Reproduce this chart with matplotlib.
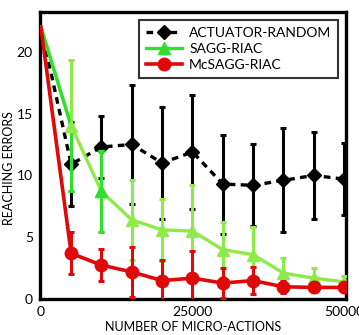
import matplotlib
matplotlib.use("Agg")
import matplotlib.pyplot as plt
import numpy as np

# ---- data ----
micro_actions = [0, 5000, 10000, 15000, 20000, 25000, 30000, 35000, 40000, 45000, 50000]
random_mean = [22.0, 10.9, 12.3, 12.5, 11.0, 11.9, 9.3, 9.2, 9.6, 10.0, 9.7]
random_err = [0.0, 3.4, 2.5, 4.8, 4.5, 4.6, 4.0, 3.3, 4.2, 3.5, 2.9]
sagg_mean = [22.0, 14.0, 8.7, 6.4, 5.6, 5.5, 4.0, 3.6, 2.1, 1.7, 1.4]
sagg_err = [0.0, 5.3, 3.3, 3.2, 2.5, 3.7, 2.2, 2.2, 1.2, 0.8, 0.5]
mc_mean = [22.0, 3.7, 2.75, 2.2, 1.5, 1.7, 1.3, 1.5, 1.0, 0.95, 0.95]
mc_err = [0.0, 1.7, 1.3, 2.0, 1.7, 2.2, 1.2, 1.1, 0.5, 0.4, 0.4]
labels = ["ACTUATOR-RANDOM", "SAGG-RIAC", "McSAGG-RIAC"]
xticks = [0, 25000, 50000]
yticks = [0, 5, 10, 15, 20]

plt.rcParams['font.family'] = ['Lato', 'DejaVu Sans']

fig = plt.figure(figsize=(3.59, 3.35), dpi=100)
ax = fig.add_axes([0.111, 0.107, 0.853, 0.857])

BLACK = "#000000"
LIGHT_GREEN = "#8eea4a"
BRIGHT_GREEN = "#2fe02f"
RED = "#e00808"

x = np.array(micro_actions)
EB = dict(ls="none", elinewidth=2.2, capsize=2.5, capthick=2.2)


def series(mean, err, color, ls, lw, marker, ms, z):
    mean = np.asarray(mean)
    ax.plot(x, mean, color=color, ls=ls, lw=lw, zorder=z)
    ax.errorbar(x[1:], mean[1:], yerr=np.asarray(err)[1:], color=color,
                marker=marker, ms=ms, zorder=z + 0.01, **EB)


series(random_mean, random_err, BLACK, (0, (2.0, 1.6)), 2.4, "D", 7, 2)
series(sagg_mean, sagg_err, LIGHT_GREEN, "-", 2.4, "^", 9, 3)
# bright-green overlay parts
sm = np.asarray(sagg_mean)
se = np.asarray(sagg_err)
ax.plot(x[:2], sm[:2], color=BRIGHT_GREEN, lw=2.4, zorder=3.1)
ax.errorbar(x[1:2], sm[1:2], yerr=[se[1:2], [0]], color=BRIGHT_GREEN,
            zorder=3.05, **EB)
ax.errorbar(x[2:3], sm[2:3], yerr=se[2:3], color=BRIGHT_GREEN,
            marker="^", ms=9, zorder=3.1, **EB)
series(mc_mean, mc_err, RED, "-", 2.6, "o", 9, 4)

# legend handles
h1, = ax.plot([], [], color=BLACK, ls=(0, (2.0, 1.6)), lw=2.4, marker="D", ms=7)
h2, = ax.plot([], [], color=BRIGHT_GREEN, ls="-", lw=2.4, marker="^", ms=9)
h3, = ax.plot([], [], color=RED, ls="-", lw=2.6, marker="o", ms=9)
leg = ax.legend([h1, h2, h3], labels, loc="upper right", fontsize=10,
                frameon=True, fancybox=False, edgecolor="black",
                handlelength=2.6, handletextpad=0.5, labelspacing=0.3,
                borderpad=0.5, borderaxespad=0.55)
leg.get_frame().set_linewidth(1.5)

ax.set_xlim(-165, 50330)
ax.set_ylim(0, 23.2)
ax.set_xticks(xticks)
ax.set_xticklabels([str(v) for v in xticks])
ax.set_yticks(yticks)
ax.set_yticklabels([str(v) for v in yticks])
ax.tick_params(length=0, labelsize=10)
ax.tick_params(axis="y", pad=5)
ax.tick_params(axis="x", pad=5)
for s in ax.spines.values():
    s.set_linewidth(2.4)

ax.set_ylabel("REACHING ERRORS", fontsize=9)
ax.set_xlabel("NUMBER OF MICRO-ACTIONS", fontsize=9)
ax.yaxis.set_label_coords(-0.08, 0.455)
ax.xaxis.set_label_coords(0.5, -0.076)

fig.savefig("out.png", dpi=100)
